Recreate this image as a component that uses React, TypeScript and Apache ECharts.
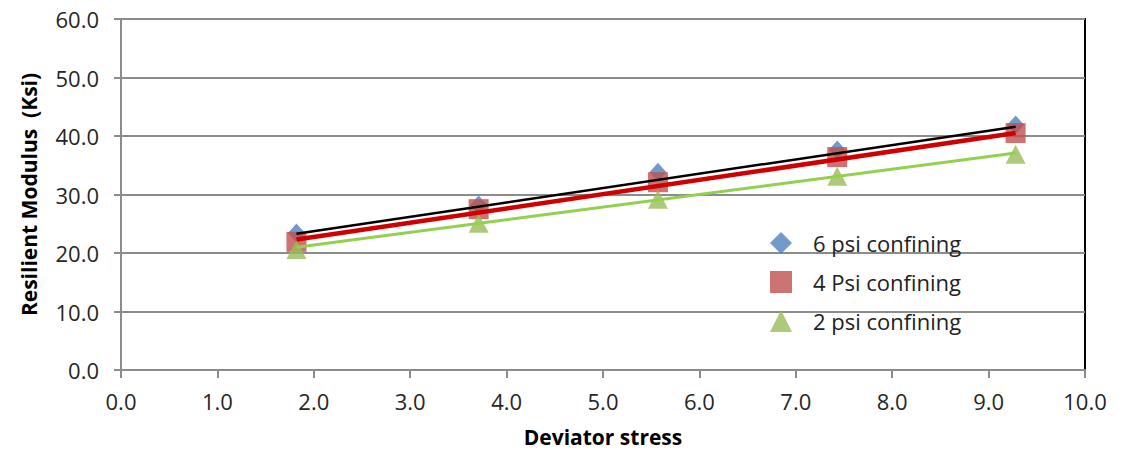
import React, { useEffect, useRef } from "react";
import * as echarts from "echarts";

const xValues = [1.82, 3.71, 5.57, 7.43, 9.28];
const psi6 = [23.4, 28.2, 33.8, 37.6, 41.9];
const psi4 = [21.9, 27.5, 32.1, 36.4, 40.5];
const psi2 = [20.6, 25.1, 29.2, 33.1, 36.9];
const trend6 = [[1.82, 23.3], [9.28, 41.6]];
const trend4 = [[1.82, 22.3], [9.28, 40.5]];
const trend2 = [[1.82, 21.0], [9.28, 37.1]];
const seriesNames = ["6 psi confining", "4 Psi confining", "2 psi confining"];

const FONT = "'Open Sans', 'Liberation Sans', sans-serif";

export default function App() {
  const ref = useRef<HTMLDivElement>(null);
  useEffect(() => {
    const chart = echarts.init(ref.current!, null, { renderer: "svg" });
    const pts = (ys: number[]) => xValues.map((x, i) => [x, ys[i]]);
    chart.setOption({
      animation: false,
      backgroundColor: "#fff",
      grid: {
        left: 121,
        right: 37,
        top: 19,
        bottom: 82,
        show: true,
        borderColor: "#000",
        borderWidth: 2,
      },
      legend: {
        orient: "vertical",
        left: 765,
        top: 227,
        itemGap: 17,
        itemWidth: 22,
        itemHeight: 22,
        textStyle: { fontFamily: FONT, fontSize: 22, color: "#222", padding: [0, 0, 0, 16] },
        data: [
          { name: seriesNames[0], icon: "diamond" },
          { name: seriesNames[1], icon: "rect" },
          { name: seriesNames[2], icon: "triangle" },
        ],
      },
      xAxis: {
        type: "value",
        min: 0,
        max: 10,
        interval: 1,
        name: "Deviator stress",
        nameLocation: "middle",
        nameGap: 56,
        nameTextStyle: { fontFamily: FONT, fontSize: 21, fontWeight: "bold", color: "#000" },
        axisLine: { lineStyle: { color: "#8c8c8c", width: 2 } },
        axisTick: { show: true, length: 8, lineStyle: { color: "#8c8c8c", width: 2 } },
        axisLabel: {
          fontFamily: FONT,
          fontSize: 22,
          color: "#262626",
          margin: 20,
          formatter: (v: number) => v.toFixed(1),
        },
        splitLine: { show: false },
      },
      yAxis: {
        type: "value",
        min: 0,
        max: 60,
        interval: 10,
        name: "Resilient Modulus  (Ksi)",
        nameLocation: "middle",
        nameGap: 82,
        nameTextStyle: { fontFamily: FONT, fontSize: 21, fontWeight: "bold", color: "#000" },
        axisLine: { show: true, lineStyle: { color: "#8c8c8c", width: 2 } },
        axisTick: { show: true, length: 7, lineStyle: { color: "#8c8c8c", width: 2 } },
        axisLabel: {
          fontFamily: FONT,
          fontSize: 22,
          color: "#262626",
          margin: 22,
          formatter: (v: number) => v.toFixed(1),
        },
        splitLine: { show: true, lineStyle: { color: "#8c8c8c", width: 2 } },
      },
      series: [
        {
          name: seriesNames[0],
          type: "scatter",
          symbol: "diamond",
          symbolSize: [17, 19],
          itemStyle: { color: "#4F81BD" },
          data: pts(psi6),
          z: 2,
        },
        {
          name: seriesNames[1],
          type: "scatter",
          symbol: "rect",
          symbolSize: 20,
          itemStyle: { color: "#C0504D" },
          data: pts(psi4),
          z: 3,
        },
        {
          name: seriesNames[2],
          type: "scatter",
          symbol: "triangle",
          symbolSize: [20, 19],
          itemStyle: { color: "#9BBB59" },
          data: pts(psi2),
          z: 4,
        },
        {
          name: "trend6",
          type: "line",
          data: trend6,
          showSymbol: false,
          lineStyle: { color: "#000", width: 2.5 },
          z: 5,
        },
        {
          name: "trend4",
          type: "line",
          data: trend4,
          showSymbol: false,
          lineStyle: { color: "#D00000", width: 4.5 },
          z: 5,
        },
        {
          name: "trend2",
          type: "line",
          data: trend2,
          showSymbol: false,
          lineStyle: { color: "#92D050", width: 3 },
          z: 5,
        },
      ],
    });
    return () => chart.dispose();
  }, []);
  return (
    <div
      ref={ref}
      style={{ position: "absolute", left: 0, top: 0, width: 1122, height: 452 }}
    />
  );
}
